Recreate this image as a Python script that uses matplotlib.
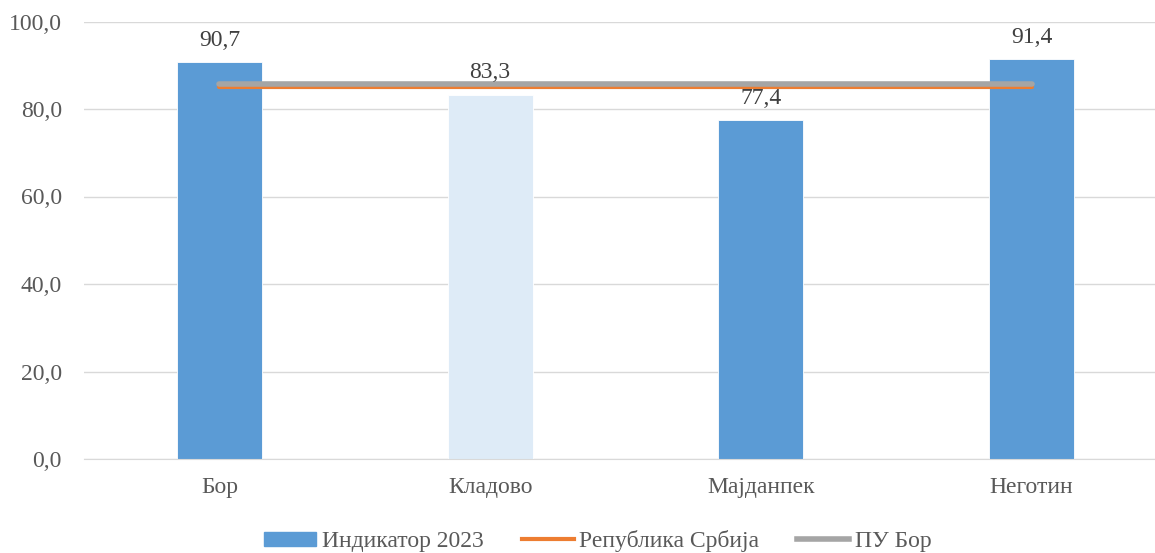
import numpy as np
import matplotlib.pyplot as plt
import matplotlib.patches as mpatches
from matplotlib.lines import Line2D

plt.rcParams['font.family'] = ['Liberation Serif', 'DejaVu Serif']

# data
categories = ['Бор', 'Кладово', 'Мајданпек', 'Неготин']
indikator = [90.7, 83.3, 77.4, 91.4]
srbija = [85.0, 85.0, 85.0, 85.0]
pu_bor = [85.7, 85.7, 85.7, 85.7]
bar_colors = ['#5B9BD5', '#DEEBF7', '#5B9BD5', '#5B9BD5']

fs = 17

fig = plt.figure(figsize=(11.55, 5.53), dpi=100)
ax = fig.add_axes([84/1155, 1 - 459/553, 1083/1155, (459 - 21.5)/553])

x = np.arange(len(categories))
ax.bar(x, indikator, width=0.314, color=bar_colors, edgecolor='white', linewidth=0.6, zorder=2)
ax.plot(x, srbija, color='#ED7D31', linewidth=3, solid_capstyle='round', zorder=3)
ax.plot(x, pu_bor, color='#A5A5A5', linewidth=4, solid_capstyle='round', zorder=4)

for xi, v in zip(x, indikator):
    ax.annotate(f'{v:.1f}'.replace('.', ','), (xi, v), xytext=(0, 8), textcoords='offset points',
                ha='center', va='bottom', fontsize=fs, color='#404040', zorder=5)

ax.set_xlim(-0.5, 3.5)
ax.set_ylim(0, 100)
ax.set_yticks(np.arange(0, 101, 20))
ax.set_yticklabels([f'{t:.1f}'.replace('.', ',') for t in np.arange(0, 101, 20)])
ax.set_xticks(x)
ax.set_xticklabels(categories)
ax.tick_params(axis='both', length=0, labelsize=fs, colors='#595959')
ax.tick_params(axis='x', pad=13)
ax.tick_params(axis='y', pad=16)
ax.grid(axis='y', color='#D9D9D9', linewidth=1, zorder=0)
ax.set_axisbelow(True)
for s in ['top', 'right', 'left']:
    ax.spines[s].set_visible(False)
ax.spines['bottom'].set_color('#D9D9D9')

handles = [mpatches.Patch(color='#5B9BD5', label='Индикатор 2023'),
           Line2D([0], [0], color='#ED7D31', linewidth=3, label='Република Србија'),
           Line2D([0], [0], color='#A5A5A5', linewidth=4, label='ПУ Бор')]
leg = fig.legend(handles=handles, loc='center', bbox_to_anchor=(598/1155, 1 - 541/553), ncol=3,
                 frameon=False, fontsize=fs, handlelength=2.2, handletextpad=0.25, columnspacing=1.6,
                 handleheight=0.55)
for t in leg.get_texts():
    t.set_color('#595959')

plt.savefig('out.png', dpi=100)
